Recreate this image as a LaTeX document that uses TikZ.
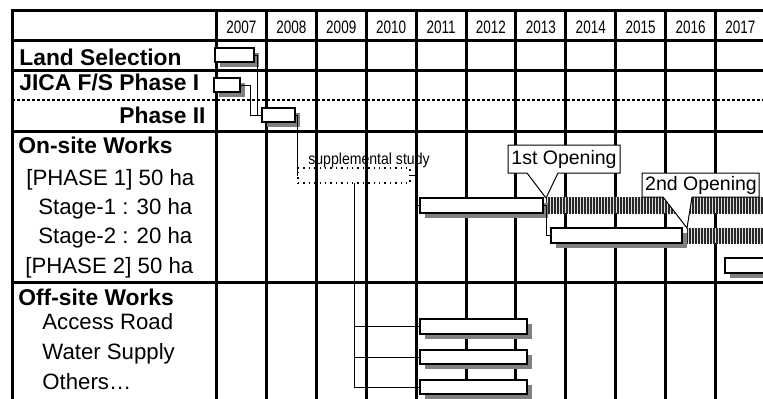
\documentclass[tikz,border=0pt]{standalone}
\usepackage{fontspec}
\setmainfont{Liberation Sans}
\newfontfamily\narrowfont[FakeStretch=0.75]{Liberation Sans}
\newfontfamily\suppfont[FakeStretch=0.88]{Liberation Sans}
\usetikzlibrary{positioning,fit,shadows,patterns.meta}
\definecolor{shadowgray}{RGB}{128,128,128}
\definecolor{hatchgray}{RGB}{40,40,40}
\tikzset{
    gridline/.style={line width=1.5pt, line cap=rect},
    taskbar/.style={draw, line width=1pt, fill=white, rectangle, inner sep=0pt, outer sep=0pt,
        drop shadow={shadow xshift=2.5pt, shadow yshift=-2.5pt, fill=shadowgray, opacity=1}},
    hatchbar/.style={preaction={fill=gray!25},
        pattern={Lines[angle=90, distance=1.5pt, line width=0.7pt]}, pattern color=hatchgray},
    link/.style={line width=0.5pt},
    rowlbl/.style={anchor=base west, inner sep=0pt, font=\fontsize{11.1}{13}\selectfont},
    headlbl/.style={rowlbl, font=\fontsize{11.4}{13}\selectfont\bfseries},
    yearlbl/.style={anchor=base, inner sep=0pt, font=\narrowfont\fontsize{9}{10}\selectfont},
    supplbl/.style={anchor=base, inner sep=0pt, font=\suppfont\fontsize{8}{9}\selectfont},
    callout/.style={draw, fill=white, line width=0.5pt},
    openlbl/.style={inner sep=0pt, font=\fontsize{9.75}{11}\selectfont}
}

\begin{document}
\begin{tikzpicture}[x=0.5pt, y=-0.5pt]
    \useasboundingbox (0,0) rectangle (763,398);
    % Table rules
    \foreach \yy in {10,40,70,131,282}
        \draw[gridline] (12,\yy) -- (775,\yy);
    \draw[line width=1.1pt, dash pattern=on 1.5pt off 1pt] (12,100) -- (775,100);
    \draw[gridline] (12,10) -- (12,405);
    \foreach \i in {0,...,11}
        \draw[gridline] ({216.5+49.9*\i},10) -- ({216.5+49.9*\i},405);
    % Years
    \foreach \yr [count=\i from 0] in {2007,...,2017}
        \node[yearlbl] (y\yr) at ({241.45+49.9*\i},33) {\yr};
    % Row labels
    \node[headlbl] (land) at (19,65) {Land Selection};
    \node[headlbl] (jica) at (19,90) {JICA F/S Phase I};
    \node[headlbl, anchor=base east] (phaseii) at (206,123) {Phase II};
    \node[headlbl] (onsite) at (18,153) {On-site Works};
    \node[rowlbl] (ph1) at (26,185) {[PHASE 1] 50 ha};
    \node[rowlbl] (st1) at (38,214) {Stage-1 : 30 ha};
    \node[rowlbl] (st2) at (38,243) {Stage-2 : 20 ha};
    \node[rowlbl] (ph2) at (25,273) {[PHASE 2] 50 ha};
    \node[headlbl] (offsite) at (18,305) {Off-site Works};
    \node[rowlbl] (road) at (42,329) {Access Road};
    \node[rowlbl] (water) at (42,359) {Water Supply};
    \node[rowlbl] (others) at (42,389) {Others…};
    % Hatched (operation)
    \fill[hatchbar] (546,197) rectangle (775,213);
    \fill[hatchbar] (687,228) rectangle (775,243);
    % Bars
    \node[taskbar, fit={(215,48)(254,62)}] (landbar) {};
    \node[taskbar, fit={(214,78)(240,92)}] (fsibar) {};
    \node[taskbar, fit={(262,108)(295,122)}] (fsiibar) {};
    \node[draw, dotted, line width=0.7pt, inner sep=0pt, outer sep=0pt, fit={(298,168)(410,183)}] (suppbox) {};
    \node[supplbl] (supptxt) at (369,164) {supplemental study};
    \node[taskbar, fit={(420,198)(543,213)}] (st1bar) {};
    \node[taskbar, fit={(551,228)(682,243)}] (st2bar) {};
    \node[taskbar, fit={(725,258)(780,273)}] (ph2bar) {};
    \node[taskbar, fit={(420,319)(527,334)}] (roadbar) {};
    \node[taskbar, fit={(420,350)(527,364)}] (waterbar) {};
    \node[taskbar, fit={(420,380)(527,394)}] (othersbar) {};
    % Links
    \draw[link] (landbar.east) -- ++(3,0) |- (fsiibar.west);
    \draw[link] (fsibar.east) -- ++(10,0) |- (fsiibar.west);
    \draw[link] (fsiibar.east) -- ++(2,0) |- (suppbox.west);
    \draw[link] (suppbox.east) -- ++(5,0) |- (st1bar.west);
    \draw[link] (st1bar.east) -- ++(3,0) |- (st2bar.west);
    \draw[link] (suppbox.south) |- (roadbar.west);
    \draw[link] (suppbox.south) |- (waterbar.west);
    \draw[link] (suppbox.south) |- (othersbar.west);
    % Openings
    \filldraw[callout] (508,145) -- (620,145) -- (620,173) -- (558,173) -- (546,198)
        -- (527,173) -- (508,173) -- cycle;
    \node[openlbl] (open1) at (564,159) {1st Opening};
    \filldraw[callout] (642,173) -- (759,173) -- (759,197) -- (692,197) -- (687,228)
        -- (663,197) -- (642,197) -- cycle;
    \node[openlbl] (open2) at (701,185) {2nd Opening};
\end{tikzpicture}
\end{document}
